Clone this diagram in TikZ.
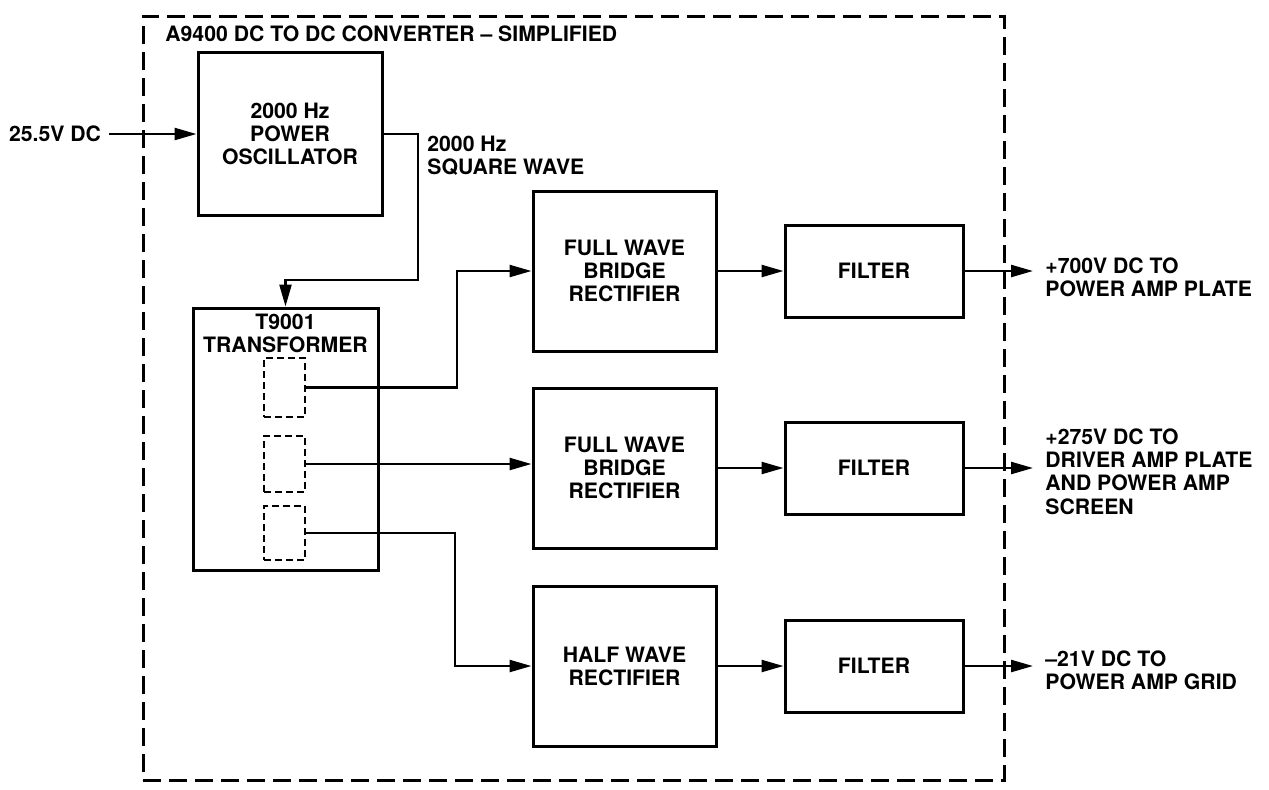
\documentclass[tikz,border=0pt]{standalone}
\usepackage{fontspec}
\setmainfont{TeX Gyre Heros}
\usetikzlibrary{arrows.meta}
\begin{document}
\begin{tikzpicture}[x=0.5pt,y=-0.5pt,
  every node/.style={font=\fontsize{10.6}{11.6}\selectfont\bfseries, align=center, inner sep=0pt},
  blk/.style={draw, line width=1.5pt, inner sep=0pt},
  sub/.style={draw, line width=1.1pt, dash pattern=on 3.5pt off 2pt, inner sep=0pt, minimum width=20.5pt},
  conn/.style={line width=1.2pt},
  arr/.style={conn, -{Triangle[length=11pt,width=6pt]}},
  outer/.style={draw, line width=1.5pt, dash pattern=on 9pt off 4pt, inner sep=0pt}
]
\useasboundingbox (0,0) rectangle (1269,789);
% frame
\node[outer, minimum width=430.5pt, minimum height=382pt] (frame) at (573.5,398) {};
\node[anchor=west] (title) at (165,34) {A9400 DC TO DC CONVERTER \textendash\ SIMPLIFIED};
% oscillator
\node[blk, minimum width=92pt, minimum height=81.5pt] (osc) at (290,134) {2000 Hz\\POWER\\OSCILLATOR};
\node (inlbl) at (55,134) {25.5V DC};
\draw[arr, shorten <=4pt] (inlbl.east) -- (inlbl.east -| osc.west);
% transformer
\node[blk, minimum width=92.5pt, minimum height=131pt] (tr) at (285.5,439) {};
\node (trlbl) at (285.5,333.5) {T9001\\TRANSFORMER};
\node[sub, minimum height=29.5pt] (s1) at (284.5,387.5) {};
\node[sub, minimum height=28pt] (s2) at (284.5,464) {};
\node[sub, minimum height=27pt] (s3) at (284.5,533) {};
% osc to transformer
\coordinate (bA) at (418,280);
\draw[arr] (osc.east) -| (bA) -| (tr.north);
\node[anchor=west, align=left] (sq) at (427,156) {2000 Hz\\SQUARE WAVE};
% rectifiers
\node[blk, minimum width=91.5pt, minimum height=80pt] (fw1) at (624.5,271) {FULL WAVE\\BRIDGE\\RECTIFIER};
\node[blk, minimum width=91.5pt, minimum height=80pt] (fw2) at (624.5,468) {FULL WAVE\\BRIDGE\\RECTIFIER};
\node[blk, minimum width=91.5pt, minimum height=80pt] (hw) at (624.5,666) {HALF WAVE\\RECTIFIER};
% filters
\node[blk, minimum width=89pt, minimum height=46pt] (f1) at (874,271) {FILTER};
\node[blk, minimum width=89pt, minimum height=46pt] (f2) at (874,468) {FILTER};
\node[blk, minimum width=89pt, minimum height=46pt] (f3) at (874,666) {FILTER};
% transformer to rectifiers
\coordinate (k1) at (457,0);
\coordinate (k3) at (455,0);
\draw[arr] (s1.east) -- (s1.east -| k1) |- (fw1.west);
\draw[arr] (s2.east) -- (s2.east -| fw2.west);
\draw[arr] (s3.east) -- (s3.east -| k3) |- (hw.west);
% rectifiers to filters
\draw[arr] (fw1.east) -- (f1.west);
\draw[arr] (fw2.east) -- (f2.west);
\draw[arr] (hw.east) -- (f3.west);
% outputs
\coordinate (oc) at (1033,0);
\draw[arr] (f1.east) -- (f1.east -| oc);
\draw[arr] (f2.east) -- (f2.east -| oc);
\draw[arr] (f3.east) -- (f3.east -| oc);
\node[anchor=west, align=left] (o1) at (1045,277) {+700V DC TO\\POWER AMP PLATE};
\node[anchor=west, align=left] (o2) at (1045,471.5) {+275V DC TO\\DRIVER AMP PLATE\\AND POWER AMP\\SCREEN};
\node[anchor=west, align=left] (o3) at (1045,670) {\textendash21V DC TO\\POWER AMP GRID};
\end{tikzpicture}
\end{document}
